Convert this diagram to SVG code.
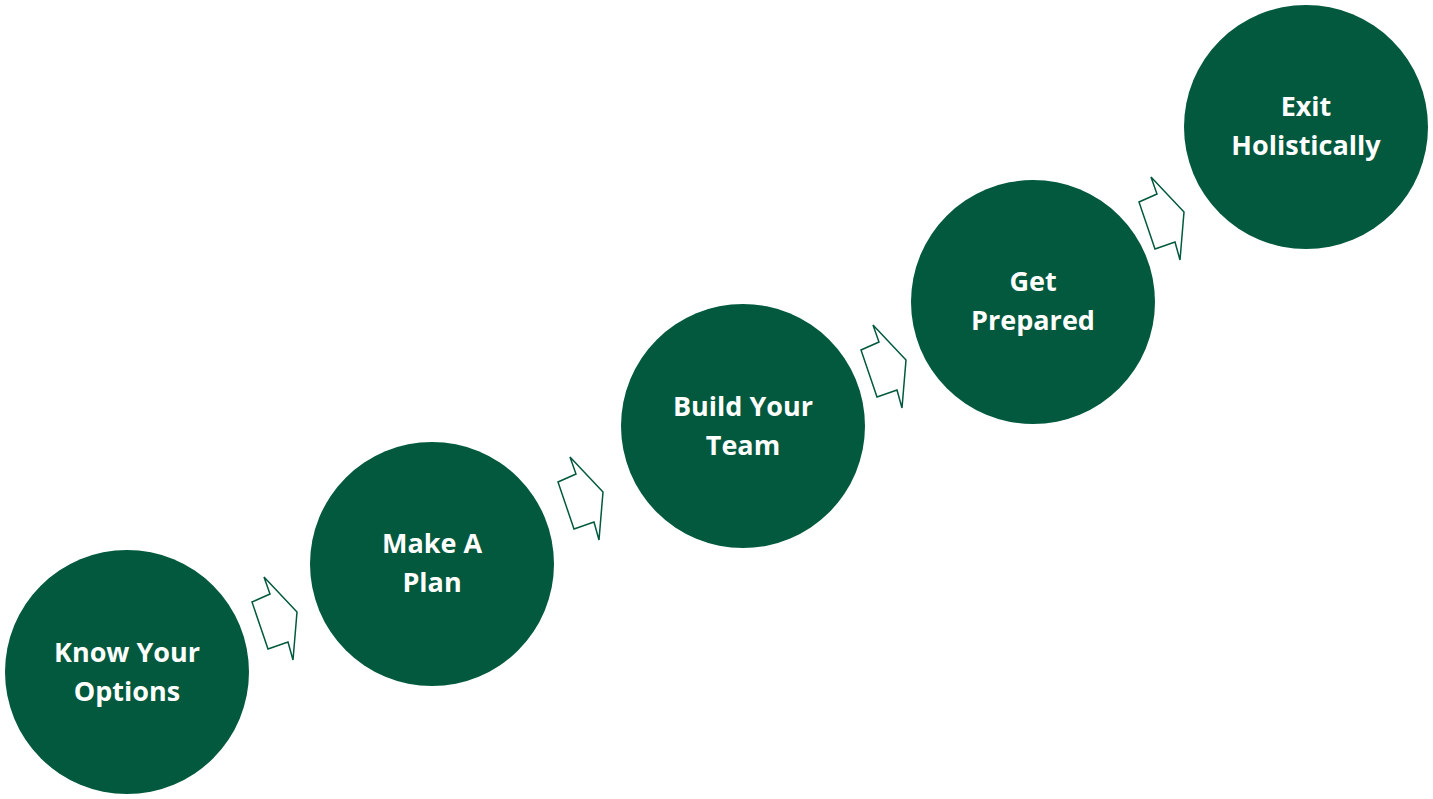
<svg xmlns="http://www.w3.org/2000/svg" width="1433" height="799" viewBox="0 0 1433 799">
<style>
.c{fill:#02593D}
.t{fill:#fff;font-family:"Open Sans","Noto Sans",sans-serif;font-weight:bold;font-size:27px;text-anchor:middle}
.a{fill:#fff;stroke:#02593D;stroke-width:1.5;stroke-linejoin:miter}
</style>
<defs><polygon id="arr" points="264,577 270,594 252,602 268,649 288,642 293,660 297,612"/></defs>
<rect width="1433" height="799" fill="#fff"/>
<g id="connectors">
<use href="#arr" class="a"/>
<use href="#arr" class="a" transform="translate(306,-120)"/>
<use href="#arr" class="a" transform="translate(609,-252)"/>
<use href="#arr" class="a" transform="translate(887,-400)"/>
</g>
<g id="n1"><circle class="c" cx="127" cy="672" r="122"/><text class="t" x="127" y="662">Know Your</text><text class="t" x="127" y="701">Options</text></g>
<g id="n2"><circle class="c" cx="432" cy="564" r="122"/><text class="t" x="432" y="553">Make A</text><text class="t" x="432" y="592">Plan</text></g>
<g id="n3"><circle class="c" cx="743" cy="426" r="122"/><text class="t" x="743" y="416">Build Your</text><text class="t" x="743" y="455">Team</text></g>
<g id="n4"><circle class="c" cx="1033" cy="302" r="122"/><text class="t" x="1033" y="291">Get</text><text class="t" x="1033" y="330">Prepared</text></g>
<g id="n5"><circle class="c" cx="1306" cy="127" r="122"/><text class="t" x="1306" y="116">Exit</text><text class="t" x="1306" y="155">Holistically</text></g>
</svg>
